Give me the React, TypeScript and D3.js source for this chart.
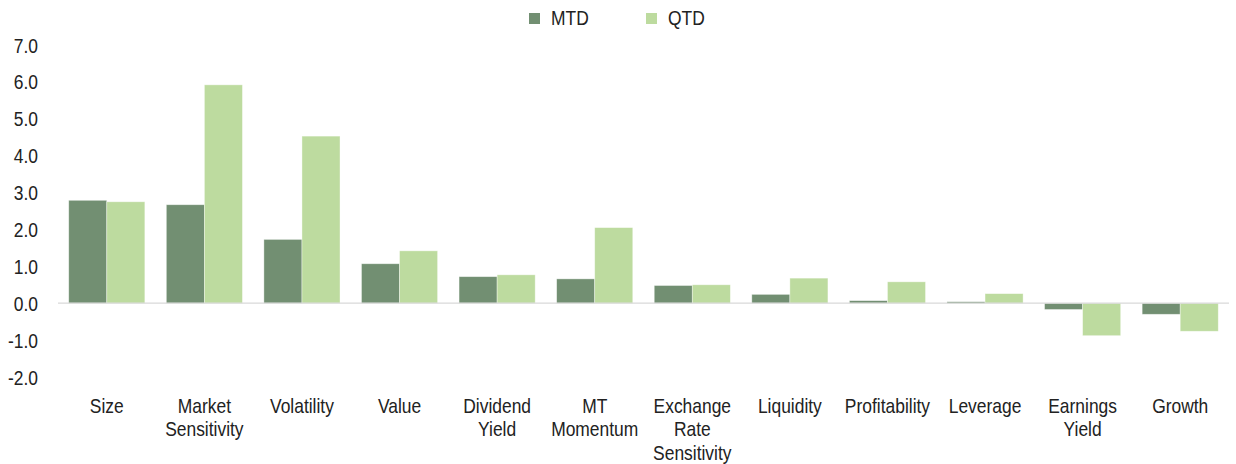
import React from "react";
import * as d3 from "d3";

const categories = [
  ["Size"],
  ["Market", "Sensitivity"],
  ["Volatility"],
  ["Value"],
  ["Dividend", "Yield"],
  ["MT", "Momentum"],
  ["Exchange", "Rate", "Sensitivity"],
  ["Liquidity"],
  ["Profitability"],
  ["Leverage"],
  ["Earnings", "Yield"],
  ["Growth"],
];
const mtd = [2.79, 2.67, 1.73, 1.07, 0.72, 0.66, 0.48, 0.24, 0.07, 0.04, -0.17, -0.3];
const qtd = [2.75, 5.92, 4.53, 1.42, 0.77, 2.05, 0.5, 0.68, 0.58, 0.26, -0.88, -0.76];
const yTicks = [7, 6, 5, 4, 3, 2, 1, 0, -1, -2];
const seriesNames = ["MTD", "QTD"];
const colors = ["#728f72", "#bddb9f"];

const W = 1236;
const H = 464;
const FONT = "'Liberation Sans', Arial, sans-serif";
const SX = 0.85;
const FS = 20.5;
const TXT = "#222222";

function NText({ x, y, anchor, children }: { x: number; y: number; anchor?: string; children: React.ReactNode }) {
  return (
    <text
      transform={`translate(${x},${y}) scale(${SX},1)`}
      textAnchor={anchor || "start"}
      fontSize={FS}
      fill={TXT}
    >
      {children}
    </text>
  );
}

const fmt = (v: number) => d3.format(".1f")(v).replace("\u2212", "-");

export default function App() {
  const keys = categories.map((c) => c.join(" "));
  const x = d3.scaleBand<string>().domain(keys).range([58, 1229]).paddingInner(0.22).paddingOuter(0.11);
  const x1 = d3.scaleBand<string>().domain(seriesNames).range([0, x.bandwidth()]);
  const y = d3.scaleLinear().domain([-2, 7]).range([377, 45]);
  const series = [mtd, qtd];

  return (
    <svg width={W} height={H} style={{ position: "absolute", left: 0, top: 0 }} fontFamily={FONT}>
      <rect width={W} height={H} fill="#ffffff" />
      {/* legend */}
      {seriesNames.map((s, i) => (
        <g key={s} transform={`translate(${i === 0 ? 529 : 646},0)`}>
          <rect x={0} y={13} width={11} height={11} fill={colors[i]} />
          <NText x={22} y={25}>{s}</NText>
        </g>
      ))}
      {/* y axis labels */}
      {yTicks.map((t) => (
        <NText key={t} x={38} y={y(t) + 7.5} anchor="end">
          {fmt(t)}
        </NText>
      ))}
      {/* bars */}
      {keys.map((k, ci) => (
        <g key={k} transform={`translate(${x(k)},0)`}>
          {series.map((vals, si) => {
            const v = vals[ci];
            const y0 = y(0);
            const yv = y(v);
            return (
              <rect
                key={si}
                x={x1(seriesNames[si])}
                y={Math.min(y0, yv)}
                width={x1.bandwidth()}
                height={Math.abs(yv - y0)}
                fill={colors[si]}
                stroke="#ffffff"
                strokeOpacity={0.5}
                strokeWidth={0.75}
              />
            );
          })}
        </g>
      ))}
      {/* zero line */}
      <line x1={58} x2={1229} y1={y(0)} y2={y(0)} stroke="#d9d9d9" strokeWidth={1.2} />
      {/* x labels */}
      {categories.map((lines, ci) => {
        const cx = (x(keys[ci]) as number) + x.bandwidth() / 2;
        return (
          <g key={ci}>
            {lines.map((l, li) => (
              <NText key={li} x={cx} y={412.5 + li * 23.5} anchor="middle">
                {l}
              </NText>
            ))}
          </g>
        );
      })}
    </svg>
  );
}
